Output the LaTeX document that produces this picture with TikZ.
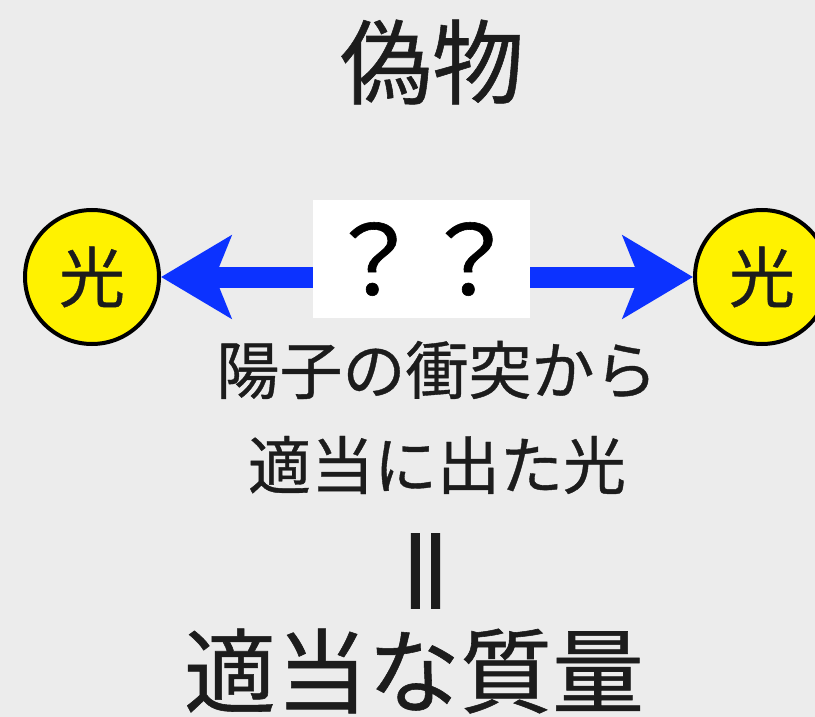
\documentclass[tikz,border=0pt]{standalone}
\usepackage{fontspec}
\setmainfont[FakeBold=0.6]{Noto Sans CJK JP}
\newfontfamily\dickfont[FakeBold=3]{Noto Sans CJK JP}
\usepackage{xcolor}
\usepackage{tikz}
\usetikzlibrary{arrows.meta,positioning}
\definecolor{paper}{RGB}{236,236,236}
\definecolor{pfeilblau}{RGB}{12,50,255}
\definecolor{tinte}{RGB}{28,28,28}

\begin{document}
\begin{tikzpicture}[x=1pt,y=-1pt,
  hikari/.style={circle,draw=black,line width=4pt,fill=yellow,minimum size=134pt,inner sep=0pt,
    font=\fontsize{66}{66}\selectfont,text=tinte},
  pfeil/.style={pfeilblau,line width=21pt,-{Stealth[length=70pt,width=82pt,inset=16pt]}},
  zeile/.style={text=tinte,inner sep=0pt,font=\fontsize{#1}{#1}\selectfont}]
\useasboundingbox[fill=paper] (0,0) rectangle (815,717);
\node[zeile=92] (titel) at (432,62) {偽物};
\node[hikari] (links) at (92,277) {光};
\node[hikari] (rechts) at (762,277) {光};
\node[fill=white,minimum width=217pt,minimum height=118pt,inner sep=0pt,text=black,
  font=\fontsize{96}{96}\selectfont] (frage) at (421.5,259) {？？};
\draw[pfeil] (frage.west |- links.east) -- (links.east);
\draw[pfeil] (frage.east |- rechts.west) -- (rechts.west);
\node[zeile=63] (zeileA) at (437,370) {陽子の衝突から};
\node[zeile=63] (zeileB) at (437,465) {適当に出た光};
\node[zeile=100,rotate=90,yscale=0.9,font=\fontsize{100}{100}\dickfont] (gleich) at (436,571) {＝};
\node[zeile=92] (masse) at (414,671) {適当な質量};
\end{tikzpicture}
\end{document}
